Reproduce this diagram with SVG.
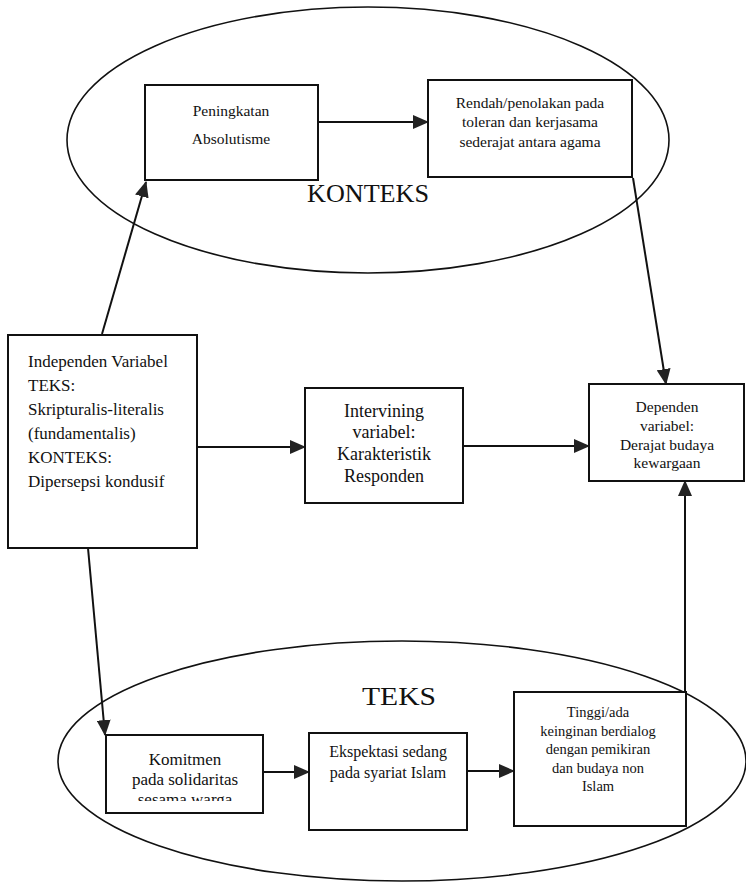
<svg xmlns="http://www.w3.org/2000/svg" width="746" height="884" viewBox="0 0 746 884">
<style>
.box{fill:#fff;stroke:#111;stroke-width:2}
.ell{fill:none;stroke:#111;stroke-width:1.6}
.t{font-family:"Liberation Serif","Times New Roman",serif;fill:#111;text-anchor:middle}
.l{text-anchor:start}
.edge{stroke:#111;stroke-width:2;fill:none;marker-end:url(#ah)}
</style>
<defs>
<marker id="ah" markerWidth="16" markerHeight="14" refX="15" refY="7" orient="auto" markerUnits="userSpaceOnUse"><path d="M0,0 L16,7 L0,14 Z" fill="#222"/></marker>
<clipPath id="kclip"><rect x="106" y="735" width="157" height="66"/></clipPath>
</defs>
<rect width="746" height="884" fill="#fff"/>
<g id="konteks-region">
<ellipse class="ell" cx="368" cy="140" rx="301" ry="133"/>
<text class="t" x="368" y="202" font-size="25" textLength="122" lengthAdjust="spacingAndGlyphs">KONTEKS</text>
</g>
<g id="teks-region">
<ellipse class="ell" cx="402" cy="761" rx="344" ry="120"/>
<text class="t" x="399" y="705" font-size="26" textLength="74" lengthAdjust="spacingAndGlyphs">TEKS</text>
</g>
<g id="connectors">
<line class="edge" x1="102" y1="334" x2="146" y2="182"/>
<line class="edge" x1="318" y1="122" x2="428" y2="122"/>
<line class="edge" x1="633" y1="178" x2="666" y2="384"/>
<line class="edge" x1="197" y1="447" x2="305" y2="447"/>
<line class="edge" x1="463" y1="446" x2="589" y2="446"/>
<line class="edge" x1="88" y1="548" x2="105" y2="735"/>
<line class="edge" x1="263" y1="772" x2="309" y2="772"/>
<line class="edge" x1="467" y1="771" x2="514" y2="771"/>
<line class="edge" x1="685" y1="692" x2="685" y2="481"/>
</g>
<g id="peningkatan">
<rect class="box" x="145" y="85" width="173" height="95"/>
<text class="t" x="231" y="116" font-size="15.5">Peningkatan</text>
<text class="t" x="231" y="144" font-size="15.5">Absolutisme</text>
</g>
<g id="rendah">
<rect class="box" x="428" y="80" width="204" height="97"/>
<text class="t" x="530" y="108" font-size="15.5">Rendah/penolakan pada</text>
<text class="t" x="530" y="127" font-size="15.5">toleran dan kerjasama</text>
<text class="t" x="530" y="147" font-size="15.5">sederajat antara agama</text>
</g>
<g id="independen">
<rect class="box" x="8" y="335" width="189" height="213"/>
<text class="t l" x="28" y="367" font-size="17">Independen Variabel</text>
<text class="t l" x="28" y="391" font-size="17">TEKS:</text>
<text class="t l" x="28" y="415" font-size="17">Skripturalis-literalis</text>
<text class="t l" x="28" y="439" font-size="17">(fundamentalis)</text>
<text class="t l" x="28" y="463" font-size="17">KONTEKS:</text>
<text class="t l" x="28" y="487" font-size="17">Dipersepsi kondusif</text>
</g>
<g id="intervining">
<rect class="box" x="305" y="388" width="158" height="115"/>
<text class="t" x="384" y="417" font-size="18">Intervining</text>
<text class="t" x="384" y="438" font-size="18">variabel:</text>
<text class="t" x="384" y="460" font-size="18">Karakteristik</text>
<text class="t" x="384" y="482" font-size="18">Responden</text>
</g>
<g id="dependen">
<rect class="box" x="589" y="384" width="155" height="97"/>
<text class="t" x="667" y="412" font-size="15.5">Dependen</text>
<text class="t" x="667" y="431" font-size="15.5">variabel:</text>
<text class="t" x="667" y="450" font-size="15.5">Derajat budaya</text>
<text class="t" x="667" y="468" font-size="15.5">kewargaan</text>
</g>
<g id="komitmen">
<rect class="box" x="106" y="735" width="157" height="78"/>
<text class="t" x="185" y="765" font-size="17">Komitmen</text>
<text class="t" x="185" y="785" font-size="17">pada solidaritas</text>
<text class="t" x="185" y="805" font-size="17" clip-path="url(#kclip)">sesama warga</text>
</g>
<g id="ekspektasi">
<rect class="box" x="309" y="733" width="158" height="97"/>
<text class="t" x="388" y="757" font-size="16">Ekspektasi sedang</text>
<text class="t" x="388" y="778" font-size="16">pada syariat Islam</text>
</g>
<g id="tinggi">
<rect class="box" x="514" y="692" width="172" height="134"/>
<text class="t" x="598" y="717" font-size="14.5">Tinggi/ada</text>
<text class="t" x="598" y="736" font-size="14.5">keinginan berdialog</text>
<text class="t" x="598" y="754" font-size="14.5">dengan pemikiran</text>
<text class="t" x="598" y="773" font-size="14.5">dan budaya non</text>
<text class="t" x="598" y="791" font-size="14.5">Islam</text>
</g>
</svg>
